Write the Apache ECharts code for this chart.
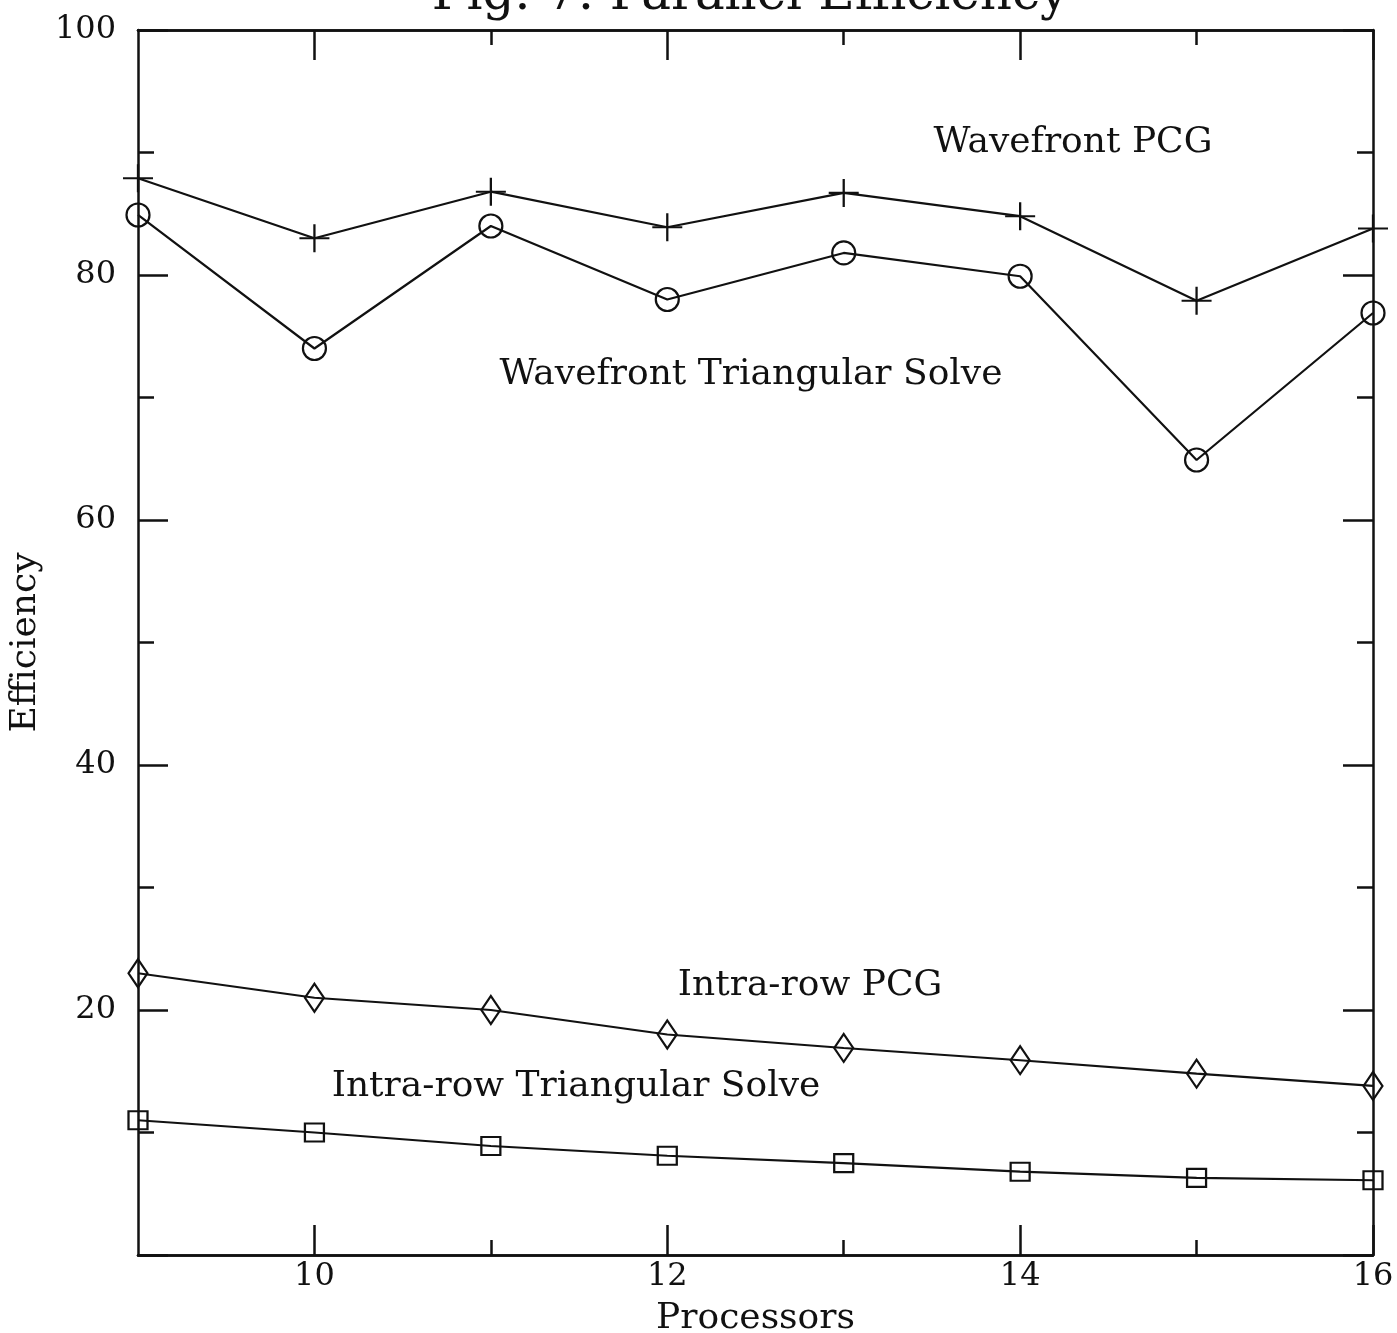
<!DOCTYPE html>
<html>
<head>
<meta charset="utf-8">
<title>Fig. 7. Parallel Efficiency</title>
<script src="https://cdn.jsdelivr.net/npm/echarts@6.0.0/dist/echarts.min.js"></script>
<style>
  html, body { margin: 0; padding: 0; background: #fff; }
  #chart { width: 1397px; height: 1333px; }
</style>
</head>
<body>
<div id="chart"></div>
<script>
// data
const processors = [9, 10, 11, 12, 13, 14, 15, 16];
const wavefrontPCG = [87.9, 83.0, 86.8, 83.9, 86.7, 84.8, 77.9, 83.8];
const wavefrontTriSolve = [84.9, 74.0, 84.0, 78.0, 81.8, 79.9, 64.9, 76.9];
const intraRowPCG = [23.0, 21.0, 20.0, 18.0, 16.9, 15.9, 14.8, 13.8];
const intraRowTriSolve = [11.0, 10.0, 8.9, 8.1, 7.5, 6.8, 6.3, 6.1];

const xMajorTicks = [10, 12, 14, 16];
const xMinorTicks = [11, 13, 15];

const FONT = 'DejaVu Serif';
const INK = '#111';

const pairs = (ys) => processors.map((x, i) => [x, ys[i]]);

const chart = echarts.init(document.getElementById('chart'));

// frame axis helper
const xAxisDef = (position, ticks, len, labels) => ({
  type: 'value',
  position: position,
  min: 9,
  max: 16,
  axisLine: { show: true, onZero: false, lineStyle: { color: INK, width: 2.5 } },
  axisTick: {
    show: true,
    inside: true,
    length: len,
    customValues: ticks,
    lineStyle: { color: INK, width: 2.5 },
  },
  axisLabel: labels
    ? { show: true, customValues: ticks, color: INK, fontFamily: FONT, fontSize: 32, margin: 6 }
    : { show: false },
  splitLine: { show: false },
});

const yAxisDef = (position, labels) => ({
  type: 'value',
  position: position,
  min: 0,
  max: 100,
  interval: 20,
  axisLine: { show: true, onZero: false, lineStyle: { color: INK, width: 2.5 } },
  axisTick: { show: true, inside: true, length: 30, lineStyle: { color: INK, width: 2.5 } },
  minorTick: { show: true, splitNumber: 2, length: 16, lineStyle: { color: INK, width: 2.5 } },
  axisLabel: labels
    ? {
        show: true,
        color: INK,
        fontFamily: FONT,
        fontSize: 32,
        margin: 22,
        formatter: (v) => (v === 0 ? '' : String(v)),
      }
    : { show: false },
  splitLine: { show: false },
});

const lineSeries = (name, ys, symbol, size) => ({
  name: name,
  type: 'line',
  data: pairs(ys),
  symbol: symbol,
  symbolSize: size,
  showAllSymbol: true,
  clip: false,
  silent: true,
  lineStyle: { color: INK, width: 2.2 },
  itemStyle: { color: 'rgba(0,0,0,0)', borderColor: INK, borderWidth: 2.2 },
  emphasis: { disabled: true },
});

const noteText = (text, x, y) => ({
  type: 'text',
  x: x,
  y: y,
  style: {
    text: text,
    fill: INK,
    font: '36px "' + FONT + '"',
    textAlign: 'center',
    textVerticalAlign: 'middle',
  },
});

const option = {
  backgroundColor: '#fff',
  animation: false,
  title: {
    text: 'Fig. 7. Parallel Efficiency',
    left: 745,
    textAlign: 'center',
    top: -34,
    textStyle: { color: INK, fontFamily: FONT, fontSize: 50, fontWeight: 'normal' },
  },
  grid: { left: 138, right: 24, top: 30, bottom: 78, outerBoundsMode: 'none' },
  xAxis: [
    Object.assign(xAxisDef('bottom', xMajorTicks, 30, true), {
      name: 'Processors',
      nameLocation: 'middle',
      nameGap: 46,
      nameTextStyle: { color: INK, fontFamily: FONT, fontSize: 36 },
    }),
    xAxisDef('bottom', xMinorTicks, 15, false),
    xAxisDef('top', xMajorTicks, 30, false),
    xAxisDef('top', xMinorTicks, 15, false),
  ],
  yAxis: [
    Object.assign(yAxisDef('left', true), {
      name: 'Efficiency',
      nameLocation: 'middle',
      nameRotate: 90,
      nameGap: 87,
      nameTextStyle: { color: INK, fontFamily: FONT, fontSize: 36 },
    }),
    yAxisDef('right', false),
  ],
  series: [
    lineSeries('Wavefront PCG', wavefrontPCG, 'path://M0,14L30,14M15,0L15,28', [30, 28]),
    lineSeries('Wavefront Triangular Solve', wavefrontTriSolve, 'circle', 23),
    lineSeries('Intra-row PCG', intraRowPCG, 'diamond', [19, 28]),
    lineSeries('Intra-row Triangular Solve', intraRowTriSolve, 'rect', [19, 18]),
  ],
  graphic: [
    noteText('Wavefront PCG', 1073, 143),
    noteText('Wavefront Triangular Solve', 751, 375),
    noteText('Intra-row PCG', 810, 986),
    noteText('Intra-row Triangular Solve', 576, 1087),
  ],
};

chart.setOption(option);
</script>
</body>
</html>
